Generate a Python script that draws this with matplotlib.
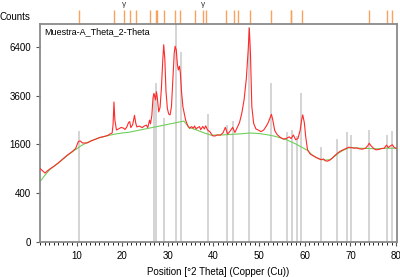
import numpy as np
import matplotlib
matplotlib.use("Agg")
import matplotlib.pyplot as plt
from matplotlib.ticker import MultipleLocator
import matplotlib.transforms as mtransforms

plt.rcParams['font.family'] = ['Liberation Sans', 'DejaVu Sans']

# measured pattern (2theta, counts)
pos = [2.0, 2.5, 3.1, 3.6, 4.2, 5.0, 6.0, 7.0, 8.0, 9.0, 9.8, 10.4, 10.8, 11.3, 12.3,
       13.2, 14.2, 15.1, 16.0, 16.8, 17.3, 17.8, 18.0, 18.2, 18.4, 18.75, 19.2, 19.8,
       20.3, 20.6, 21.0, 21.4, 21.65, 21.9, 22.3, 22.7, 22.95, 23.2, 23.8, 24.4, 24.8,
       25.3, 25.6, 26.0, 26.2, 26.5, 26.75, 26.95, 27.1, 27.3, 27.5, 27.7, 28.0, 28.3,
       28.6, 28.9, 29.1, 29.35, 29.6, 29.9, 30.2, 30.5, 30.8, 31.1, 31.4, 31.6, 31.85,
       32.1, 32.3, 32.55, 32.75, 33.0, 33.3, 33.9, 34.4, 34.75, 35.2, 35.6, 35.85, 36.2,
       36.5, 36.95, 37.2, 37.65, 38.0, 38.3, 38.7, 39.2, 39.8, 40.3, 40.9, 41.5, 42.1,
       42.6, 43.1, 43.6, 44.2, 44.7, 45.3, 45.7, 46.2, 46.7, 47.2, 47.6, 47.85, 48.1,
       48.4, 48.8, 49.3, 49.8, 50.4, 51.0, 51.5, 52.0, 52.4, 52.7, 53.0, 53.4, 53.9,
       54.5, 55.3, 56.0, 56.6, 57.0, 57.5, 58.0, 58.5, 59.0, 59.3, 59.55, 59.9, 60.2,
       60.6, 61.2, 62.1, 63.0, 63.6, 64.1, 64.5, 65.0, 65.5, 66.0, 66.6, 67.2, 67.8,
       68.4, 69.0, 69.6, 70.2, 70.8, 71.4, 72.0, 72.6, 73.3, 73.8, 74.1, 74.5, 75.1,
       75.6, 76.2, 76.8, 77.4, 77.9, 78.3, 78.8, 79.2, 79.6, 80.0]
counts = [910, 860, 800, 850, 900, 960, 1050, 1160, 1270, 1370, 1470, 1700, 1720, 1650, 1650,
          1720, 1780, 1840, 1870, 1910, 1960, 2000, 2300, 3300, 2500, 2110, 2150, 2210,
          2180, 2130, 2220, 2400, 2440, 2200, 2320, 2700, 2400, 2230, 2260, 2200, 2260,
          2300, 2200, 2500, 2350, 2700, 3480, 3720, 3600, 3400, 3800, 3500, 2850, 3050,
          4000, 5600, 6550, 5600, 3800, 3000, 2750, 2720, 3100, 4400, 6000, 6450, 6200,
          5300, 4980, 5200, 4800, 3800, 3080, 2500, 2260, 2175, 2240, 2180, 2265, 2150,
          2200, 2240, 2120, 2250, 2150, 2270, 2111, 2050, 1900, 1890, 1930, 1920, 2010,
          2212, 1960, 2060, 2212, 2020, 2240, 2400, 2787, 3400, 4500, 6200, 7700, 6000,
          3080, 2370, 2150, 2111, 2050, 2110, 2240, 2400, 2600, 2740, 2500, 2100, 1950,
          1860, 1780, 1808, 1860, 1800, 1927, 1760, 1800, 2111, 2500, 2720, 2400, 1866,
          1430, 1300, 1230, 1170, 1140, 1160, 1110, 1100, 1130, 1180, 1260, 1330, 1390,
          1430, 1470, 1510, 1500, 1480, 1490, 1460, 1450, 1480, 1560, 1640, 1560, 1470,
          1430, 1440, 1470, 1480, 1580, 1500, 1560, 1590, 1500, 1480]

# background
bg_pos = [2.0, 3.0, 4.2, 5, 6, 7, 8, 9, 10, 11, 12, 13, 14, 15, 16, 17, 18, 19, 20, 21.6,
          33.5, 34.75, 36, 38, 39.5, 42, 46, 48, 50, 52, 53.5, 56, 58, 60, 60.7, 61.5,
          62.5, 63.5, 64.5, 65.5, 66.5, 67.5, 68.5, 69.5, 70.5, 72, 74, 76, 78, 80]
bg_counts = [612, 740, 890, 960, 1050, 1150, 1260, 1360, 1460, 1560, 1640, 1710, 1770, 1830,
             1870, 1910, 1945, 1975, 2000, 2030, 2460, 2200, 2130, 2000, 1920, 1930, 1970,
             2000, 1980, 1930, 1880, 1760, 1620, 1460, 1400, 1290, 1200, 1150, 1130, 1140,
             1230, 1340, 1420, 1490, 1500, 1480, 1470, 1460, 1480, 1480]

# reference pattern sticks
stick_pos = [10.6, 27.0, 27.5, 29.1, 31.7, 32.8, 38.75, 42.9, 44.2, 47.85, 52.6, 56.2,
             57.2, 58.4, 59.1, 63.5, 67.1, 69.2, 70.05, 74.05, 77.9, 79.1]
stick_counts = [2080, 3700, 4250, 2590, 8000, 6050, 2770, 2304, 2450, 7800, 4240, 2050,
                2111, 1900, 3720, 1528, 1775, 2025, 1927, 2111, 1927, 2090]

# second phase markers (top strip)
mark_pos = [10.5, 18.2, 20.4, 21.65, 23.0, 26.2, 27.3, 27.6, 29.1, 31.6, 32.6, 36.0,
            37.65, 38.4, 42.8, 44.4, 45.3, 48.0, 52.6, 56.9, 57.05, 59.3, 74.05, 77.9, 79.0]
gamma_pos = [20.4, 37.65]

fig = plt.figure(figsize=(4, 2.77), dpi=100)
ax = fig.add_axes([0.1, 0.1264, 0.8925, 0.787])
ax.set_yscale('function', functions=(lambda v: np.sqrt(np.clip(v, 0, None)), lambda v: v ** 2))

ax.vlines(stick_pos, 0, stick_counts, color='#d4d4d4', lw=1.4, zorder=1)
ax.plot(bg_pos, bg_counts, color='#6fcf5a', lw=0.8, zorder=2)
ax.plot(pos, counts, color='#ff2a2a', lw=0.8, zorder=3)

trans = mtransforms.blended_transform_factory(ax.transData, ax.transAxes)
ax.vlines(mark_pos, 1.0, 1.064, color='#f7a35c', lw=1.0, transform=trans, clip_on=False)
for g in gamma_pos:
    ax.text(g, 1.075, 'γ', transform=trans, ha='center', va='bottom', fontsize=6, color='#333333')

ax.set_xlim(2, 80.2)
ax.set_ylim(0, 8000)
ax.set_yticks([0, 400, 1600, 3600, 6400])
ax.set_xticks([10, 20, 30, 40, 50, 60, 70, 80])
ax.xaxis.set_minor_locator(MultipleLocator(1))
ax.tick_params(axis='both', labelsize=7, color='#555555', width=0.8)
ax.tick_params(axis='x', which='major', length=3)
ax.tick_params(axis='x', which='minor', length=2)
ax.tick_params(axis='y', length=3)

for s in ax.spines.values():
    s.set_color('#8a8a8a')
    s.set_linewidth(1.3)

ax.text(0.012, 0.985, 'Muestra-A_Theta_2-Theta', transform=ax.transAxes, ha='left', va='top', fontsize=6.5)
fig.text(0.0, 0.92, 'Counts', ha='left', va='bottom', fontsize=7)
ax.set_xlabel('Position [°2 Theta] (Copper (Cu))', fontsize=7, labelpad=4)

fig.savefig('out.png', dpi=100)
